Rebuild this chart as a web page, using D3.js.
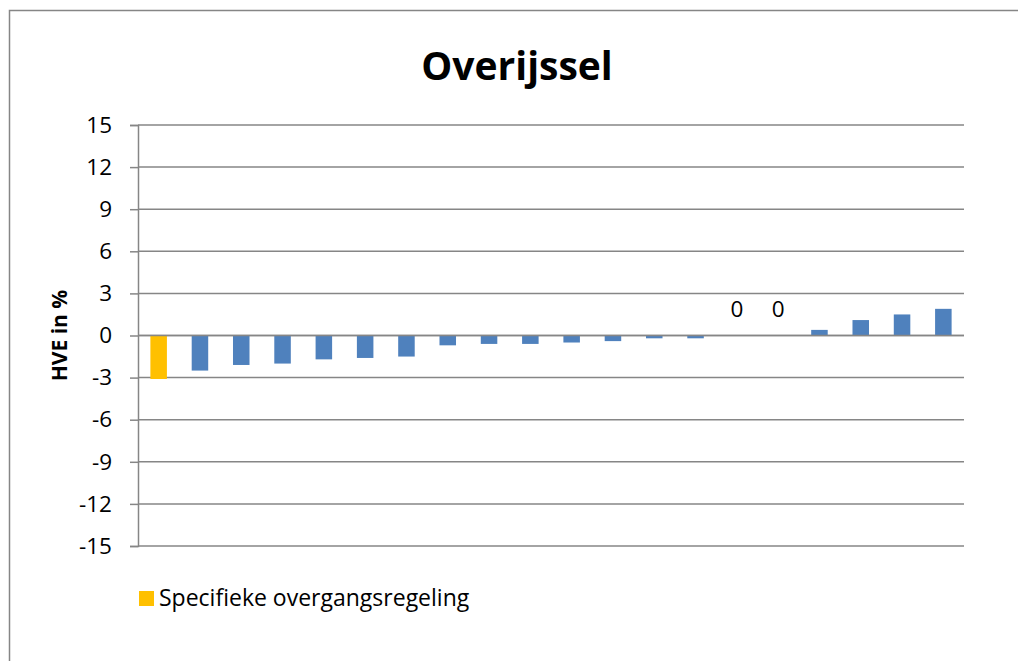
<!DOCTYPE html>
<html>
<head>
<meta charset="utf-8">
<script src="https://cdn.jsdelivr.net/npm/d3@7"></script>
<style>
  body { margin: 0; background: #fff; }
  text { font-family: 'Open Sans', 'Liberation Sans', sans-serif; fill: #000; }
  .title { font-size: 39px; font-weight: bold; }
  .axis text { font-size: 22.5px; }
</style>
</head>
<body>
<script>
// one bar per gemeente (no names shown on the axis)
var categories = ['1', '2', '3', '4', '5', '6', '7', '8', '9', '10',
  '11', '12', '13', '14', '15', '16', '17', '18', '19', '20'];
var values = [-3.1, -2.5, -2.1, -2.0, -1.7, -1.6, -1.5, -0.7, -0.6, -0.6,
  -0.5, -0.4, -0.2, -0.2, 0, 0, 0.4, 1.1, 1.5, 1.9];
// first bar is the one with the specific transition arrangement
var special = [true, false, false, false, false, false, false, false, false, false,
  false, false, false, false, false, false, false, false, false, false];
var yTicks = [-15, -12, -9, -6, -3, 0, 3, 6, 9, 12, 15];

var svg = d3.select('body').append('svg').attr('width', 1018).attr('height', 661);

var width = 1018;
var height = 661;
var margin = { left: 138, right: 54, top: 125, bottom: 115 };

// chart frame
svg.append('path')
  .attr('d', 'M9.5,' + height + 'V10.5H' + width)
  .attr('fill', 'none')
  .attr('stroke', '#868686')
  .attr('stroke-width', 1.5);

var x = d3.scaleBand()
  .domain(categories)
  .range([margin.left, width - margin.right])
  .paddingInner(0.6)
  .paddingOuter(0.3);

var y = d3.scaleLinear()
  .domain([-15, 15])
  .range([height - margin.bottom, margin.top]);

// gridlines
svg.append('g')
  .selectAll('line')
  .data(yTicks)
  .enter()
  .append('line')
  .attr('x1', margin.left)
  .attr('x2', width - margin.right)
  .attr('y1', function (d) { return y(d); })
  .attr('y2', function (d) { return y(d); })
  .attr('stroke', '#868686')
  .attr('stroke-width', 1.5);

var yAxis = svg.append('g')
  .attr('class', 'axis')
  .attr('transform', 'translate(' + margin.left + ',0)')
  .call(d3.axisLeft(y).tickValues(yTicks).tickSize(8).tickPadding(18)
    .tickFormat(function (d) { return String(d); }));
yAxis.selectAll('line').attr('stroke', '#868686').attr('stroke-width', 1.5);
yAxis.select('.domain').attr('stroke', '#868686').attr('stroke-width', 1.5);

// bars
svg.append('g')
  .selectAll('rect')
  .data(values)
  .enter()
  .append('rect')
  .attr('x', function (d, i) { return x(categories[i]); })
  .attr('width', x.bandwidth())
  .attr('y', function (d) { return y(Math.max(d, 0)); })
  .attr('height', function (d) { return Math.abs(y(d) - y(0)); })
  .attr('fill', function (d, i) { return special[i] ? '#FFC000' : '#4F81BD'; });

// zero-value labels
svg.append('g')
  .selectAll('text')
  .data(values.map(function (v, i) { return { v: v, c: categories[i] }; }).filter(function (d) { return d.v === 0; }))
  .enter()
  .append('text')
  .attr('x', function (d) { return x(d.c) + x.bandwidth() / 2; })
  .attr('y', y(0) - 19)
  .attr('text-anchor', 'middle')
  .style('font-size', '22.5px')
  .text(function (d) { return d.v; });

svg.append('line')
  .attr('x1', margin.left)
  .attr('x2', width - margin.right)
  .attr('y1', y(0))
  .attr('y2', y(0))
  .attr('stroke', '#868686')
  .attr('stroke-width', 1.5);

svg.append('text')
  .attr('class', 'title')
  .attr('x', 517)
  .attr('y', 80)
  .attr('text-anchor', 'middle')
  .text('Overijssel');

svg.append('text')
  .attr('transform', 'translate(67,' + y(0) + ') rotate(-90)')
  .attr('text-anchor', 'middle')
  .style('font-size', '21px')
  .style('font-weight', 'bold')
  .text('HVE in %');

// legend
var legend = svg.append('g').attr('transform', 'translate(139,591)');
legend.append('rect').attr('width', 15).attr('height', 15).attr('fill', '#FFC000');
legend.append('text')
  .attr('x', 20)
  .attr('y', 15)
  .style('font-size', '23px')
  .text('Specifieke overgangsregeling');
</script>
</body>
</html>
